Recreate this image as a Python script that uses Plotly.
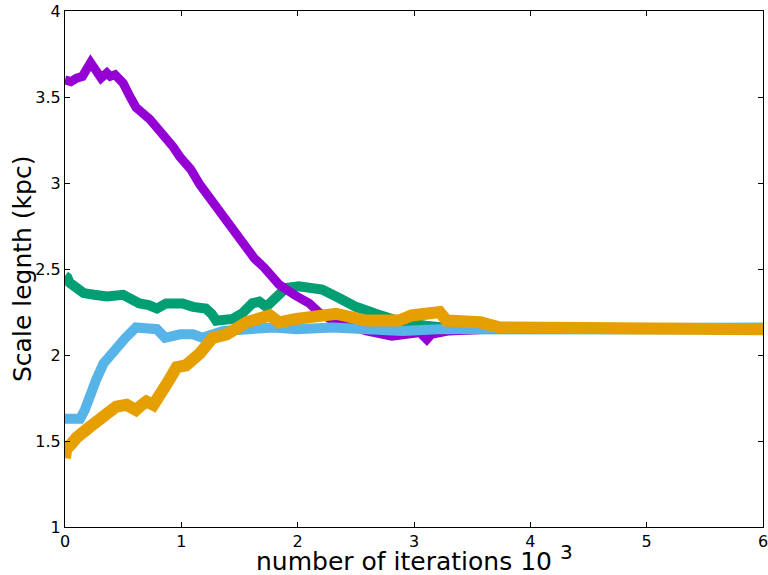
import plotly.graph_objects as go

# ---- data (x in units of 10^3 iterations, y = scale length in kpc) ----
purple_x = [0, 0.05, 0.1, 0.15, 0.22, 0.27, 0.31, 0.36, 0.39, 0.43, 0.50, 0.56, 0.61, 0.73,
            0.85, 0.93, 0.99, 1.08, 1.16, 1.29, 1.41, 1.50, 1.63, 1.71, 1.84, 1.97, 2.10,
            2.18, 2.30, 2.45, 2.59, 2.81, 2.98, 3.05, 3.11, 3.15, 3.3, 3.6, 4.0, 4.5, 5.0,
            5.5, 6.0]
purple_y = [3.60, 3.59, 3.61, 3.62, 3.70, 3.65, 3.61, 3.64, 3.62, 3.63, 3.58, 3.50, 3.44, 3.37,
            3.28, 3.21, 3.15, 3.08, 2.99, 2.87, 2.77, 2.67, 2.56, 2.51, 2.41, 2.35, 2.30,
            2.25, 2.20, 2.17, 2.14, 2.11, 2.12, 2.13, 2.09, 2.12, 2.14, 2.15, 2.16, 2.16, 2.15,
            2.15, 2.15]

green_x = [0, 0.02, 0.04, 0.1, 0.16, 0.25, 0.36, 0.50, 0.57, 0.64, 0.72, 0.79, 0.87, 0.95,
           1.01, 1.10, 1.21, 1.26, 1.30, 1.44, 1.52, 1.61, 1.67, 1.73, 1.82, 1.90, 2.01,
           2.10, 2.21, 2.36, 2.50, 2.67, 2.76, 2.9, 3.1, 3.4, 3.8, 4.2, 4.6, 5.0, 5.5, 6.0]
green_y = [2.46, 2.45, 2.42, 2.38, 2.36, 2.35, 2.34, 2.35, 2.32, 2.30, 2.29, 2.27, 2.30, 2.30,
           2.30, 2.28, 2.27, 2.24, 2.20, 2.21, 2.24, 2.30, 2.31, 2.28, 2.33, 2.39, 2.40,
           2.39, 2.38, 2.33, 2.28, 2.24, 2.22, 2.19, 2.17, 2.15, 2.15, 2.15, 2.14, 2.14, 2.15, 2.15]

blue_x = [0, 0.13, 0.17, 0.21, 0.27, 0.33, 0.44, 0.52, 0.61, 0.70, 0.79, 0.86, 0.92, 0.99,
          1.10, 1.18, 1.36, 1.50, 1.64, 1.80, 1.99, 2.3, 2.6, 2.9, 3.2, 3.5, 4.0, 4.5, 5.0,
          5.5, 6.0]
blue_y = [1.63, 1.63, 1.68, 1.76, 1.86, 1.95, 2.05, 2.10, 2.16, 2.15, 2.15, 2.10, 2.11, 2.12,
          2.12, 2.10, 2.14, 2.15, 2.16, 2.16, 2.15, 2.16, 2.15, 2.14, 2.15, 2.15, 2.16, 2.15,
          2.15, 2.16, 2.16]

orange_x = [0, 0.01, 0.05, 0.10, 0.21, 0.30, 0.36, 0.44, 0.53, 0.61, 0.66, 0.70, 0.76, 0.84,
            0.90, 0.96, 1.04, 1.16, 1.27, 1.39, 1.56, 1.76, 1.84, 1.99, 2.16, 2.33, 2.59,
            2.87, 2.98, 3.22, 3.28, 3.46, 3.57, 3.74, 4.02, 4.31, 4.6, 5.0, 5.5, 6.0]
orange_y = [1.40, 1.45, 1.48, 1.52, 1.58, 1.63, 1.66, 1.70, 1.71, 1.68, 1.71, 1.73, 1.71, 1.78,
            1.86, 1.93, 1.94, 2.01, 2.10, 2.12, 2.19, 2.23, 2.19, 2.21, 2.23, 2.24, 2.20,
            2.20, 2.23, 2.25, 2.20, 2.19, 2.19, 2.16, 2.16, 2.15, 2.155, 2.15, 2.15, 2.15]

x_ticks = [0, 1, 2, 3, 4, 5, 6]
y_ticks = [1, 1.5, 2, 2.5, 3, 3.5, 4]
y_tick_labels = ["1", "1.5", "2", "2.5", "3", "3.5", "4"]
x_title = "number of iterations 10 <sup><span style='font-size:20px'>3</span></sup>"
y_title = "Scale legnth (kpc)"

series = [
    (green_x, green_y, "#009E73", 10),
    (purple_x, purple_y, "#9400D3", 9),
    (blue_x, blue_y, "#56B4E9", 10),
    (orange_x, orange_y, "#E69F00", 12),
]

fig = go.Figure()
for xs, ys, col, w in series:
    fig.add_trace(go.Scatter(x=xs, y=ys, mode="lines",
                             line=dict(color=col, width=w),
                             showlegend=False, hoverinfo="skip", cliponaxis=True))

font_family = "DejaVu Sans"
fig.update_layout(
    width=768, height=575,
    margin=dict(l=65, r=5, t=11, b=48),
    paper_bgcolor="white", plot_bgcolor="white",
    font=dict(family=font_family, color="black", size=16),
)
fig.update_xaxes(
    range=[0, 6], tickvals=x_ticks, ticktext=[str(t) for t in x_ticks],
    ticks="inside", ticklen=5, tickwidth=1, tickcolor="black",
    showline=True, linecolor="black", linewidth=1, mirror="ticks",
    showgrid=False, zeroline=False, automargin=False, ticklabeloverflow="allow",
    tickfont=dict(size=16),
)
fig.update_yaxes(
    range=[1, 4], tickvals=y_ticks, ticktext=y_tick_labels,
    ticks="inside", ticklen=5, tickwidth=1, tickcolor="black",
    showline=True, linecolor="black", linewidth=1, mirror="ticks",
    showgrid=False, zeroline=False, automargin=False, ticklabeloverflow="allow",
    tickfont=dict(size=16),
)
fig.add_annotation(text=x_title, xref="paper", yref="paper", x=0.5, y=0,
                   xanchor="center", yanchor="top", yshift=-11, showarrow=False,
                   font=dict(size=25, family=font_family, color="black"))
fig.add_annotation(text=y_title, xref="paper", yref="paper", x=0, y=0.5,
                   xanchor="center", yanchor="middle", xshift=-43, textangle=-90,
                   showarrow=False, font=dict(size=25, family=font_family, color="black"))

# remove the default page margin so the figure sits at the window's top-left corner
fig.write_html("out.html", config={"displayModeBar": False},
               post_script="document.body.style.margin='0';")
